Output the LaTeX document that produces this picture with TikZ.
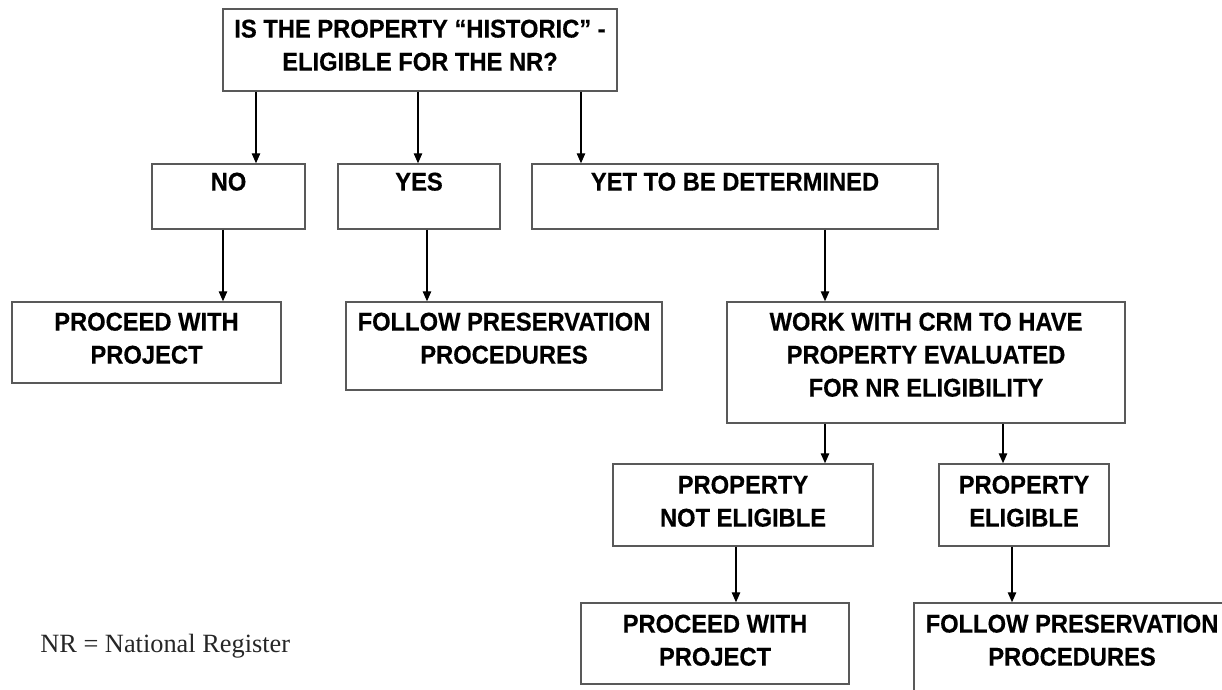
\documentclass[tikz,border=0pt]{standalone}
\usepackage{fontspec}
\newfontfamily\boxfont{Liberation Sans}[FakeStretch=0.925, BoldFeatures={FakeBold=0.4}]
\newfontfamily\notefont{Liberation Serif}
\usetikzlibrary{arrows, arrows.meta}
\usetikzlibrary{positioning}

\tikzset{
  box/.style={draw=black!65, line width=0.8pt, inner sep=0pt},
  boxsize/.style 2 args={minimum width={#1*0.02cm}, minimum height={#2*0.02cm}},
  boxtext/.style={font=\boxfont\bfseries\fontsize{14.6}{18.8}\selectfont, align=center, inner sep=0pt},
  flow/.style={line width=0.8pt, -{Triangle[length=5.7pt, width=4.8pt]}}
}

\begin{document}
\begin{tikzpicture}[x=0.02cm, y=-0.02cm]
      \useasboundingbox (0,0) rectangle (1222,689);
      \clip (0,0) rectangle (1222,689);

      \node[box, boxsize={394}{82}] (q) at (420,50) {};
      \node[boxtext, below=0.22cm of q.north] (qT) {IS THE PROPERTY “HISTORIC” -\\ELIGIBLE FOR THE NR?};

      \node[box, boxsize={153}{65}] (no) at (228.5,196.5) {};
      \node[boxtext, below=0.18cm of no.north] (noT) {NO};
      \node[box, boxsize={162}{65}] (yes) at (419,196.5) {};
      \node[boxtext, below=0.18cm of yes.north] (yesT) {YES};
      \node[box, boxsize={406}{65}] (tbd) at (735,196.5) {};
      \node[boxtext, below=0.18cm of tbd.north] (tbdT) {YET TO BE DETERMINED};

      \node[box, boxsize={269}{81}] (proc) at (146.5,342.5) {};
      \node[boxtext, below=0.22cm of proc.north] (procT) {PROCEED WITH\\PROJECT};
      \node[box, boxsize={316}{88}] (foll) at (504,346) {};
      \node[boxtext, below=0.22cm of foll.north] (follT) {FOLLOW PRESERVATION\\PROCEDURES};
      \node[box, boxsize={398}{121}] (work) at (926,362.5) {};
      \node[boxtext, below=0.22cm of work.north] (workT) {WORK WITH CRM TO HAVE\\PROPERTY EVALUATED\\FOR NR ELIGIBILITY};

      \node[box, boxsize={260}{82}] (notel) at (743,505) {};
      \node[boxtext, below=0.24cm of notel.north] (notelT) {PROPERTY\\NOT ELIGIBLE};
      \node[box, boxsize={170}{82}] (elig) at (1024,505) {};
      \node[boxtext, below=0.24cm of elig.north] (eligT) {PROPERTY\\ELIGIBLE};

      \node[box, boxsize={268}{81}] (proc2) at (715,643.5) {};
      \node[boxtext, below=0.24cm of proc2.north] (proc2T) {PROCEED WITH\\PROJECT};
      \node[box, boxsize={316}{88}] (foll2) at (1072,647) {};
      \node[boxtext, below=0.24cm of foll2.north] (foll2T) {FOLLOW PRESERVATION\\PROCEDURES};

      \node[font=\notefont\fontsize{15}{18}\selectfont, text=black!85, anchor=base west, inner sep=0pt] (note) at (40,652) {NR = National Register};

      \draw[flow] (q.south -| 256,0) -- (no.north -| 256,0);
      \draw[flow] (q.south -| 418,0) -- (yes.north -| 418,0);
      \draw[flow] (q.south -| 581,0) -- (tbd.north -| 581,0);
      \draw[flow] (no.south -| 223,0) -- (proc.north -| 223,0);
      \draw[flow] (yes.south -| 427,0) -- (foll.north -| 427,0);
      \draw[flow] (tbd.south -| 825,0) -- (work.north -| 825,0);
      \draw[flow] (work.south -| 825,0) -- (notel.north -| 825,0);
      \draw[flow] (work.south -| 1003,0) -- (elig.north -| 1003,0);
      \draw[flow] (notel.south -| 736,0) -- (proc2.north -| 736,0);
      \draw[flow] (elig.south -| 1012,0) -- (foll2.north -| 1012,0);
    \end{tikzpicture}
\end{document}
